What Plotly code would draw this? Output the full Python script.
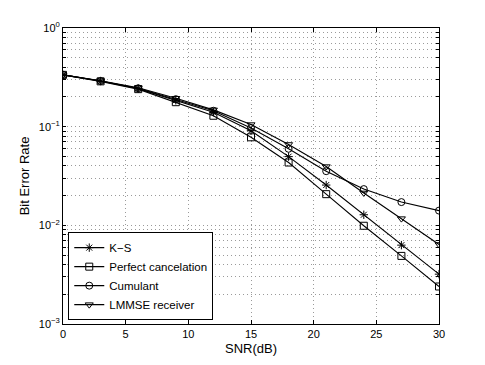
import plotly.graph_objects as go

snr = [0, 3, 6, 9, 12, 15, 18, 21, 24, 27, 30]

ber_ks = [0.335, 0.29, 0.243, 0.185, 0.14, 0.091, 0.0497, 0.0256, 0.0128, 0.0063, 0.0032]
ber_perfect = [0.335, 0.288, 0.24, 0.177, 0.129, 0.078, 0.0433, 0.0207, 0.0099, 0.0049, 0.0024]
ber_cumulant = [0.335, 0.29, 0.245, 0.19, 0.145, 0.097, 0.0597, 0.0354, 0.0233, 0.0172, 0.0141]
ber_lmmse = [0.335, 0.292, 0.248, 0.194, 0.148, 0.105, 0.066, 0.0394, 0.0213, 0.0117, 0.0064]

series_names = ["K\u2212S", "Perfect cancelation", "Cumulant", "LMMSE receiver"]
series_data = [ber_ks, ber_perfect, ber_cumulant, ber_lmmse]
series_symbols = ["asterisk-open", "square-open", "circle-open", "triangle-down-open"]

decades = [1e-3, 1e-2, 1e-1, 1]
decade_labels = ["10<sup>\u22123</sup>", "10<sup>\u22122</sup>", "10<sup>\u22121</sup>", "10<sup>0</sup>"]

# ticks de la grilla log: decadas con texto, 2..9 sin texto
y_tickvals, y_ticktext = [], []
for d, lab in zip(decades, decade_labels):
    y_tickvals.append(d)
    y_ticktext.append(lab)
    if d < 1:
        for m in range(2, 10):
            y_tickvals.append(d * m)
            y_ticktext.append(" ")

fig = go.Figure()
for name, ys, sym in zip(series_names, series_data, series_symbols):
    fig.add_trace(go.Scatter(
        x=snr, y=ys, name=name, mode="lines+markers",
        line=dict(color="black", width=1.1),
        marker=dict(symbol=sym, size=7, color="black", line=dict(color="black", width=1)),
    ))

grid = dict(showgrid=True, gridcolor="#9a9a9a", griddash="1px,3px", gridwidth=1)

# el body de la pagina deja 8px de margen, por eso la figura es 8px mas chica
fig.update_layout(
    width=477, height=357,
    margin=dict(l=55, r=46, t=16, b=41),
    paper_bgcolor="white", plot_bgcolor="white",
    font=dict(family="Liberation Sans, Arial, sans-serif", size=11, color="black"),
    showlegend=True,
    legend=dict(
        x=0.014, y=0.013, xanchor="left", yanchor="bottom",
        bgcolor="white", bordercolor="black", borderwidth=1,
        font=dict(size=11.5), tracegroupgap=0,
    ),
    xaxis=dict(
        range=[0, 30], tickvals=[0, 5, 10, 15, 20, 25, 30],
        ticks="inside", ticklen=4, tickcolor="black",
        showline=True, linecolor="black", linewidth=1, mirror="ticks",
        zeroline=False, title=dict(text="SNR(dB)", standoff=4), **grid,
    ),
    yaxis=dict(
        type="log", range=[-3, 0], tickvals=y_tickvals, ticktext=y_ticktext,
        ticks="inside", ticklen=3, tickcolor="black",
        showline=True, linecolor="black", linewidth=1, mirror="ticks",
        zeroline=False, title=dict(text="Bit Error Rate", standoff=6),
        **grid,
    ),
)

fig.write_html("out.html")
